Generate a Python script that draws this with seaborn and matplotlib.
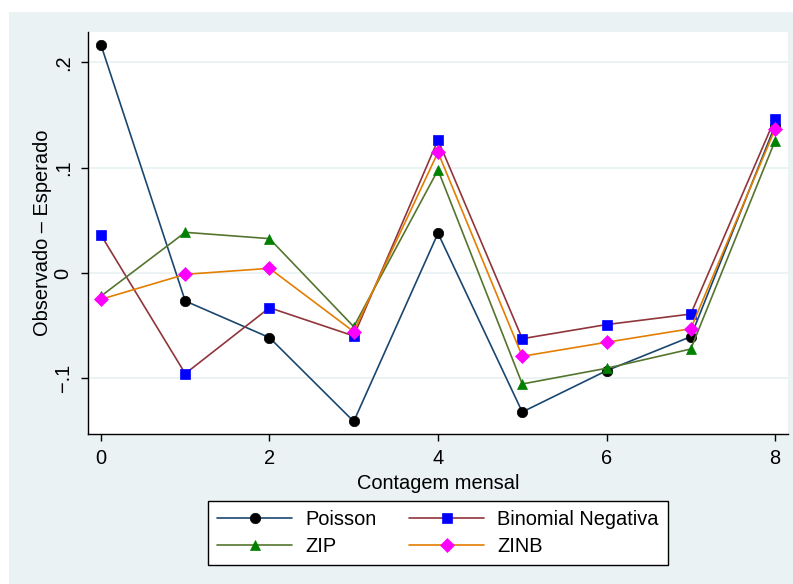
import numpy as np
import pandas as pd
import matplotlib
matplotlib.use("Agg")
import matplotlib.pyplot as plt
import seaborn as sns
from matplotlib.patches import Rectangle

# Values
counts = [0, 1, 2, 3, 4, 5, 6, 7, 8]
poisson = [0.2165, -0.0266, -0.0614, -0.141, 0.0377, -0.132, -0.0928, -0.0605, 0.140]
binomial_neg = [0.036, -0.0956, -0.033, -0.0598, 0.1263, -0.0624, -0.049, -0.039, 0.1466]
zip_model = [-0.022, 0.0386, 0.0326, -0.051, 0.0978, -0.1054, -0.0905, -0.0722, 0.1254]
zinb = [-0.025, -0.0013, 0.0044, -0.0557, 0.1146, -0.0791, -0.0658, -0.0529, 0.1365]

series_names = ["Poisson", "Binomial Negativa", "ZIP", "ZINB"]
x_ticks = [0, 2, 4, 6, 8]
y_ticks = [-0.1, 0, 0.1, 0.2]
y_tick_labels = ["\u2212.1", "0", ".1", ".2"]

df = pd.DataFrame({
    "Contagem": counts * 4,
    "Valor": poisson + binomial_neg + zip_model + zinb,
    "Modelo": np.repeat(series_names, len(counts)),
})

# Stata s2color look
line_colors = {"Poisson": "#1a476f", "Binomial Negativa": "#90353b",
               "ZIP": "#55752f", "ZINB": "#e37e00"}
marker_colors = {"Poisson": "black", "Binomial Negativa": "#0000ff",
                 "ZIP": "#008000", "ZINB": "#ff00ff"}
marker_shapes = {"Poisson": "o", "Binomial Negativa": "s", "ZIP": "^", "ZINB": "D"}
marker_sizes = {"Poisson": 7.5, "Binomial Negativa": 7.0, "ZIP": 7.5, "ZINB": 7.5}

sns.set_style("white")
plt.rcParams["font.family"] = ["Liberation Sans", "DejaVu Sans"]
plt.rcParams["font.size"] = 14.4
plt.rcParams["text.color"] = "black"
plt.rcParams["axes.labelcolor"] = "black"
plt.rcParams["xtick.color"] = "black"
plt.rcParams["ytick.color"] = "black"

bg = "#eaf2f3"
fig = plt.figure(figsize=(7.93, 5.84), dpi=100, facecolor="white")
fig.patches.append(Rectangle((9 / 793, 0), 1, 1 - 12 / 584, transform=fig.transFigure,
                             facecolor=bg, edgecolor="none", zorder=-10))

ax = fig.add_axes([88 / 793, 1 - 434 / 584, 700 / 793, 402 / 584])
ax.set_facecolor("white")

for name in series_names:
    sub = df[df["Modelo"] == name]
    sns.lineplot(data=sub, x="Contagem", y="Valor", ax=ax, label=name,
                 color=line_colors[name], linewidth=1.2,
                 marker=marker_shapes[name], markersize=marker_sizes[name],
                 markerfacecolor=marker_colors[name], markeredgecolor=marker_colors[name],
                 markeredgewidth=0.5)

ax.set_xlim(-0.154, 8.154)
ax.set_ylim(-0.1529, 0.2288)
ax.set_xticks(x_ticks)
ax.set_xticklabels([str(t) for t in x_ticks])
ax.set_yticks(y_ticks)
ax.set_yticklabels(y_tick_labels, rotation=90, va="center")

for y in y_ticks:
    ax.axhline(y, color=bg, linewidth=1.3, zorder=0)

for side in ["top", "right"]:
    ax.spines[side].set_visible(False)
for side in ["left", "bottom"]:
    ax.spines[side].set_color("black")
    ax.spines[side].set_linewidth(1.0)

ax.tick_params(axis="both", direction="out", length=5, width=1.0, color="black",
               labelsize=14.4, labelcolor="black", left=True, bottom=True)
ax.tick_params(axis="y", pad=6)
ax.tick_params(axis="x", pad=6)

ax.set_xlabel("Contagem mensal", fontsize=14.4, labelpad=4, color="black")
ax.set_ylabel("Observado \u2013 Esperado", fontsize=14.4, labelpad=1, color="black")

# legend filled row by row, like Stata
handles, labels = ax.get_legend_handles_labels()
ax.get_legend().remove()
order = [0, 2, 1, 3]
leg = fig.legend([handles[i] for i in order], [labels[i] for i in order],
                 loc="center", bbox_to_anchor=(438 / 793, 1 - 533 / 584),
                 ncol=2, frameon=True, fancybox=False, edgecolor="black",
                 facecolor="white", framealpha=1, fontsize=14.4,
                 handlelength=3.75, handletextpad=0.65, columnspacing=1.65,
                 labelspacing=0.42, borderpad=0.45)
leg.get_frame().set_linewidth(1.0)
for t in leg.get_texts():
    t.set_color("black")

fig.savefig("out.png", dpi=100, facecolor=fig.get_facecolor())
